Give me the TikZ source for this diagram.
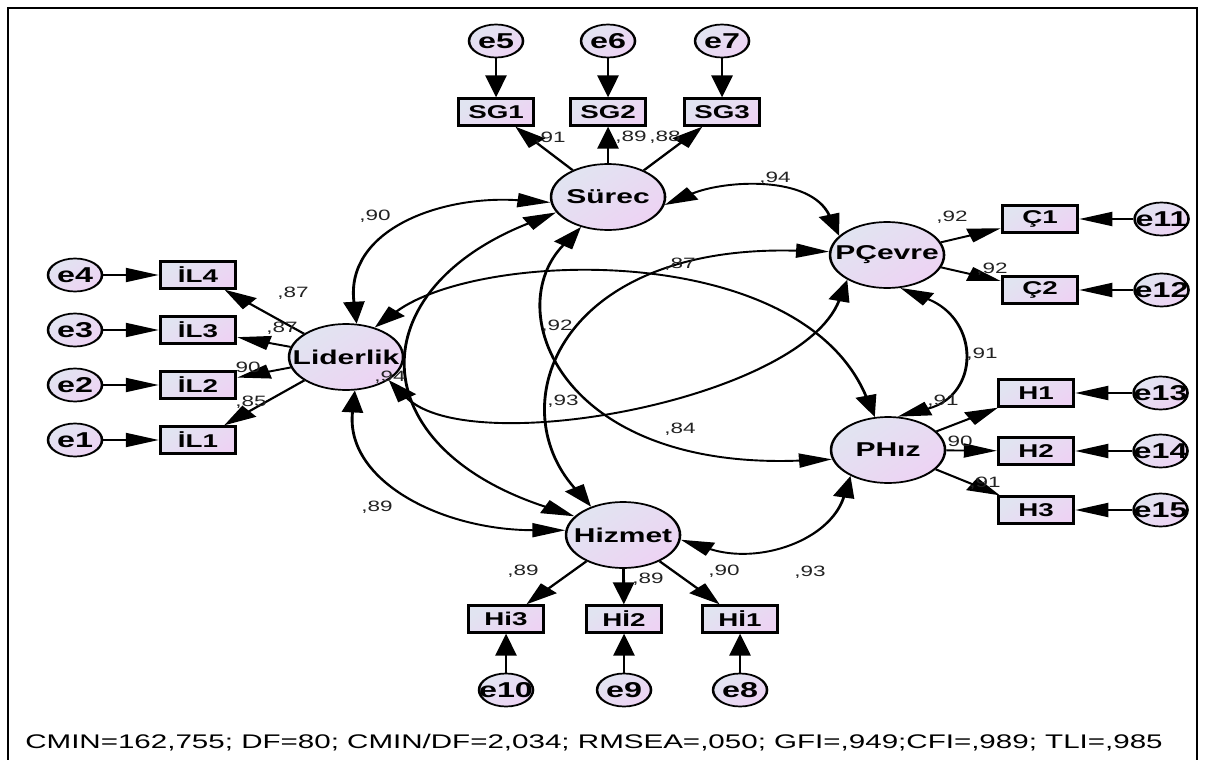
\documentclass[tikz,border=0pt]{standalone}
\usepackage{fontspec}
\setmainfont{Liberation Sans}
\usepackage{xcolor}
\usepackage{tikz}
\usetikzlibrary{positioning}
\usetikzlibrary{arrows.meta}
\usetikzlibrary{shapes.geometric}
\definecolor{amosblue}{RGB}{225,228,241}
\definecolor{amospink}{RGB}{237,211,243}
\definecolor{amostext}{RGB}{35,35,35}

\begin{document}
\begin{tikzpicture}
		% ------- style -------
		\tikzset{%
			amosfill/.style={%
				top color=amosblue, bottom color=amospink, shading angle=45,
			},
			midtext/.style={%
				execute at begin node={\hbox to 0pt\bgroup\hss},
				execute at end node={\hss\egroup},
			},
			latent/.style={ellipse, draw, line width=1.7pt, amosfill, midtext,
				minimum width=76pt, minimum height=66pt, inner sep=0pt,
				font=\fontsize{20}{20}\selectfont\bfseries},
			err/.style={ellipse, draw, line width=1.7pt, amosfill, midtext,
				minimum width=36pt, minimum height=33pt, inner sep=0pt,
				font=\fontsize{21.5}{21}\selectfont\bfseries},
			obs/.style={rectangle, draw, line width=2.3pt, amosfill,
				minimum width=50pt, minimum height=27pt, inner sep=0pt,
				font=\fontsize{18.5}{18}\selectfont\bfseries},
			coef/.style={inner sep=0pt, text=amostext,
				font=\fontsize{15}{15}\selectfont},
			load/.style={-{Triangle[length=22pt,width=14pt]}, line width=1.9pt},
			cov/.style={{Triangle[length=22pt,width=14pt]}-{Triangle[length=22pt,width=14pt]},
				line width=1.9pt},
		}
		
		\useasboundingbox (0pt,0pt) rectangle (1205pt,-760pt);
		
		\begin{scope}[x=0.6667pt, y=-1pt, transform canvas={xscale=1.5}]
		
		\draw[line width=1.3pt] (8,760) -- (8,8) -- (1197,8) -- (1197,760);
		
		% ------- latent variables -------
		\node[latent] (Surec)    at (608,197) {Sürec};
		\node[latent] (Liderlik) at (346,357) {Liderlik};
		\node[latent] (PCevre)   at (887,255) {PÇevre};
		\node[latent] (PHiz)     at (888,450) {PHız};
		\node[latent] (Hizmet)   at (623,535) {Hizmet};
		
		% ------- indicators -------
		\foreach \i/\x/\e in {1/496/5, 2/608/6, 3/722/7} {
			\node[obs] (SG\i) at (\x,112) {SG\i};
			\node[err, above=39pt of SG\i] (e\e) {e\e};
			\draw[load] (e\e) -- (SG\i);
			\draw[load] (Surec) -- (SG\i);
		}
		\foreach \i/\y in {4/275, 3/330, 2/385, 1/440} {
			\node[obs] (IL\i) at (198,\y) {İL\i};
			\node[err, left=37pt of IL\i] (e\i) {e\i};
			\draw[load] (e\i) -- (IL\i);
			\draw[load] (Liderlik) -- (IL\i);
		}
		\foreach \i/\y/\e in {1/219/11, 2/290/12} {
			\node[obs] (C\i) at (1040,\y) {Ç\i};
			\node[err, right=36pt of C\i] (e\e) {e\e};
			\draw[load] (e\e) -- (C\i);
			\draw[load] (PCevre) -- (C\i);
		}
		\foreach \i/\y/\e in {1/393/13, 2/451/14, 3/510/15} {
			\node[obs] (H\i) at (1036,\y) {H\i};
			\node[err, right=38pt of H\i] (e\e) {e\e};
			\draw[load] (e\e) -- (H\i);
			\draw[load] (PHiz) -- (H\i);
		}
		\foreach \i/\x/\e/\t in {3/506/10/Hi3, 2/624/9/Hİ2, 1/740/8/Hİ1} {
			\node[obs] (Hi\i) at (\x,619) {\t};
			\node[err, below=39pt of Hi\i] (e\e) {e\e};
			\draw[load] (e\e) -- (Hi\i);
			\draw[load] (Hizmet) -- (Hi\i);
		}
		
		% ------- covariances -------
		\draw[cov] (Liderlik.78)  .. controls (345,230) and (440,195) .. (Surec.188);
		\draw[cov] (Liderlik.280) .. controls (345,480) and (440,530) .. (Hizmet.173);
		\draw[cov] (Surec.204)    .. controls (360,290) and (360,446) .. (Hizmet.150);
		\draw[cov] (Surec.239)    .. controls (500,310) and (560,470) .. (PHiz.194);
		\draw[cov] (Hizmet.127)   .. controls (500,404) and (560,244) .. (PCevre.175);
		\draw[cov] (Liderlik.57)  .. controls (480,250) and (800,240) .. (PHiz.105);
		\draw[cov] (Liderlik.321) .. controls (470,460) and (800,400) .. (PCevre.223);
		\draw[cov] (Surec.348)    .. controls (725,180) and (810,175) .. (PCevre.149);
		\draw[cov] (PCevre.285)   .. controls (980,320) and (980,395) .. (PHiz.79);
		\draw[cov] (Hizmet.353)   .. controls (760,565) and (830,540) .. (PHiz.226);
		
		% ------- labels -------
		\foreach \n/\x/\y/\t in {SG1/550/138/{,91}, SG2/631/137/{,89}, SG3/665/137/{,88},
			IL4/293/293/{,87}, IL3/282/328/{,87}, IL2/248/367/{90}, IL1/251/402/{,85},
			C1/952/217/{,92}, C2/992/269/{,92},
			H1/943/401/{,91}, H2/960/441/{90}, H3/985/483/{,91},
			Hi3/523/571/{,89}, Hi2/648/579/{,89}, Hi1/724/571/{,90}} {
			\node[coef] (\n-label) at (\x,\y) {\t};
		}
		\node[coef] (Liderlik-Surec-label)  at (375,216) {,90};
		\node[coef] (Liderlik-Hizmet-label) at (377,507) {,89};
		\node[coef] (Surec-Hizmet-label)    at (390,377) {,94};
		\node[coef] (Surec-PHiz-label)      at (557,326) {,92};
		\node[coef] (Hizmet-PCevre-label)   at (563,401) {,93};
		\node[coef] (Liderlik-PHiz-label)   at (680,264) {,87};
		\node[coef] (Liderlik-PCevre-label) at (680,429) {,84};
		\node[coef] (Surec-PCevre-label)    at (775,178) {,94};
		\node[coef] (PCevre-PHiz-label)     at (982,354) {,91};
		\node[coef] (Hizmet-PHiz-label)     at (810,572) {,93};
		
		\node[anchor=base west, inner sep=0pt, font=\fontsize{19.7}{20}\selectfont] (fit-line) at (25,748)
			{CMIN=162,755; DF=80; CMIN/DF=2,034; RMSEA=,050; GFI=,949;CFI=,989; TLI=,985};
		
		\end{scope}
	\end{tikzpicture}
\end{document}
